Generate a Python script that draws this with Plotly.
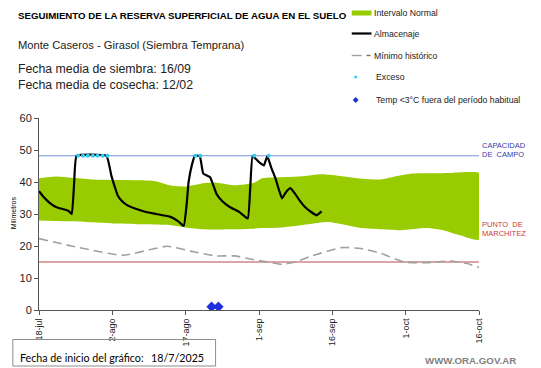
import plotly.graph_objects as go

# ---- data ----
tick_days = [0, 15, 30, 45, 60, 75, 90]
tick_labels = ["18-jul", "2-ago", "17-ago", "1-sep", "16-sep", "1-oct", "16-oct"]

upper_days = [0, 3.4, 6.7, 10.8, 16.8, 23.5, 27, 30, 33.6, 36.3, 40, 44, 45.7, 49.7, 54, 57.8, 62, 66, 69.9, 73, 76, 80, 84, 87.5, 90]
upper_vals = [41.2, 41.7, 41.3, 40.8, 40.6, 40.3, 38.9, 38.6, 39.6, 39.8, 39.0, 39.8, 41.2, 41.5, 41.8, 42.4, 41.8, 41.0, 40.8, 41.8, 42.6, 42.7, 42.8, 43.1, 42.8]

lower_days = [0, 6.7, 15.5, 20, 27, 30, 33.6, 40, 45.7, 49.7, 55, 59.1, 62, 65.9, 70, 74, 79.3, 83, 86, 90]
lower_vals = [28.0, 27.7, 27.0, 26.8, 26.5, 25.8, 25.2, 25.2, 25.6, 25.8, 26.8, 27.5, 26.8, 25.6, 25.2, 24.9, 25.6, 24.8, 23.4, 22.0]

min_days = [0, 6.7, 17.1, 26.2, 31, 36.3, 40, 44.3, 47.5, 49.7, 52.4, 55.8, 61.9, 65.9, 69.9, 74.6, 79.3, 84, 87.4, 90]
min_vals = [22.3, 20.0, 17.1, 19.9, 18.4, 16.9, 16.9, 15.6, 14.8, 14.3, 15.0, 16.9, 19.5, 19.2, 17.7, 15.0, 14.8, 15.3, 14.6, 13.3]

alm_days = [0, 1, 2, 3, 4, 5, 6, 6.7, 7.2, 7.7, 13.8, 14.8, 15.5, 16.1, 17, 18.1, 19.5, 21.5, 24, 26.9, 28.5, 29.6,
            30.2, 30.6, 31.3, 31.9, 32.9, 33.6, 35, 36.3, 37.5, 39, 41, 42.7, 43.2, 43.7, 45, 46, 46.7, 47.5, 48.4,
            49.7, 50.5, 51.4, 52.4, 53.4, 54.4, 55.6, 56.8, 57.8]
alm_vals = [37.1, 35.2, 33.7, 32.6, 31.9, 31.5, 31.0, 30.0, 40.0, 48.2, 48.2, 42.0, 38.5, 35.8, 34.0, 32.7, 31.8, 30.8, 30.0, 29.1, 27.7, 26.3,
            33.0, 40.0, 45.5, 48.3, 48.0, 42.6, 41.5, 36.3, 34.0, 32.2, 30.6, 28.6, 38.0, 48.1, 46.2, 45.2, 48.1, 44.5, 41.0,
            34.9, 36.8, 38.1, 36.3, 34.0, 32.2, 30.7, 29.6, 30.8]

exceso_days = [8, 9, 10, 11, 12, 13, 14, 32, 33, 44, 47]
exceso_vals = [48.2, 48.2, 48.2, 48.2, 48.2, 48.2, 48.2, 48.2, 48.2, 48.2, 48.2]

temp_days = [35.3, 36.7]
temp_vals = [1.0, 1.0]

capacidad = 48.2
marchitez = 15.0

# ---- figure geometry (page body has an 8px margin) ----
OFF = 8
W, H = 541 - OFF, 368 - OFF
L, T = 33 - OFF, 118 - OFF
pw, ph = 446, 192
R, B = W - L - pw, H - T - ph


def px(x):  # reference-pixel x -> paper
    return (x - OFF - L) / pw


def py(y):  # reference-pixel y -> paper
    return (T + ph - (y - OFF)) / ph


FONT = "Arial, 'Liberation Sans', sans-serif"

fig = go.Figure()

fig.add_trace(go.Scatter(
    x=upper_days + lower_days[::-1], y=upper_vals + lower_vals[::-1],
    fill="toself", fillcolor="#99cc00", line=dict(width=0, color="#99cc00", shape="spline", smoothing=0.6),
    mode="lines", hoverinfo="skip", showlegend=False))

fig.add_trace(go.Scatter(x=[0, 90], y=[capacidad, capacidad], mode="lines",
                         line=dict(color="#7394d6", width=1), showlegend=False))
fig.add_trace(go.Scatter(x=[0, 90], y=[marchitez, marchitez], mode="lines",
                         line=dict(color="#b94848", width=1), showlegend=False))

fig.add_trace(go.Scatter(x=min_days, y=min_vals, mode="lines",
                         line=dict(color="#a0a0a0", width=1.6, dash="9px,5px", shape="spline", smoothing=0.5),
                         showlegend=False))

fig.add_trace(go.Scatter(x=alm_days, y=alm_vals, mode="lines",
                         line=dict(color="black", width=2.2, shape="spline", smoothing=0.35), showlegend=False))

fig.add_trace(go.Scatter(x=exceso_days, y=exceso_vals, mode="markers",
                         marker=dict(color="#33ccee", size=4), showlegend=False))

fig.add_trace(go.Scatter(x=temp_days, y=temp_vals, mode="markers",
                         marker=dict(color="#1f2fe0", size=8, symbol="diamond"), showlegend=False))

shapes = []
annotations = []

# legend (custom)
shapes.append(dict(type="rect", xref="paper", yref="paper",
                   x0=px(350), x1=px(370), y0=py(15.5), y1=py(10.5),
                   fillcolor="#99cc00", line=dict(width=0)))
shapes.append(dict(type="line", xref="paper", yref="paper",
                   x0=px(350), x1=px(370), y0=py(33.5), y1=py(33.5),
                   line=dict(color="black", width=2.2)))
shapes.append(dict(type="line", xref="paper", yref="paper",
                   x0=px(350), x1=px(360), y0=py(55.5), y1=py(55.5),
                   line=dict(color="#a0a0a0", width=1.4)))
shapes.append(dict(type="line", xref="paper", yref="paper",
                   x0=px(365), x1=px(369), y0=py(55.5), y1=py(55.5),
                   line=dict(color="#707070", width=1.4)))
shapes.append(dict(type="circle", xref="paper", yref="paper",
                   x0=px(352.5), x1=px(355.5), y0=py(78.5), y1=py(75.5),
                   fillcolor="#33ccee", line=dict(width=0)))
cx, cy = px(354), py(100)
dx, dy = 3 / pw, 3 / ph
shapes.append(dict(type="path", xref="paper", yref="paper",
                   path=f"M {cx-dx} {cy} L {cx} {cy+dy} L {cx+dx} {cy} L {cx} {cy-dy} Z",
                   fillcolor="#1f2fe0", line=dict(width=0)))

legend_items = [("Intervalo Normal", 371, 13), ("Almacenaje", 371, 34),
                ("Mínimo histórico", 371, 56), ("Exceso", 373, 77),
                ("Temp <3°C fuera del período habitual", 373, 100)]
for txt, x, y in legend_items:
    annotations.append(dict(text=txt, xref="paper", yref="paper", x=px(x), y=py(y),
                            xanchor="left", yanchor="middle", showarrow=False,
                            font=dict(family=FONT, size=8.7, color="#222")))

# titles
annotations.append(dict(text="<b>SEGUIMIENTO DE LA RESERVA SUPERFICIAL DE AGUA EN EL SUELO</b>",
                        xref="paper", yref="paper", x=px(10), y=py(15), xanchor="left", yanchor="middle",
                        showarrow=False, font=dict(family=FONT, size=9.7, color="black")))
annotations.append(dict(text="Monte Caseros - Girasol (Siembra Temprana)",
                        xref="paper", yref="paper", x=px(10), y=py(45), xanchor="left", yanchor="middle",
                        showarrow=False, font=dict(family=FONT, size=11.2, color="#222")))
annotations.append(dict(text="Fecha media de siembra: 16/09<br>Fecha media de cosecha: 12/02",
                        xref="paper", yref="paper", x=px(10), y=py(77), xanchor="left", yanchor="middle",
                        align="left", showarrow=False, font=dict(family=FONT, size=12.3, color="#222")))

# right labels
for txt, y, col in [("CAPACIDAD", 145, "#3b3ba8"), ("DE  CAMPO", 154, "#3b3ba8"),
                    ("PUNTO  DE", 224, "#c83a3a"), ("MARCHITEZ", 233, "#c83a3a")]:
    annotations.append(dict(text=txt, xref="paper", yref="paper", x=px(480), y=py(y),
                            xanchor="left", yanchor="middle", showarrow=False,
                            font=dict(family=FONT, size=7.5, color=col)))

# y axis title
annotations.append(dict(text="Milímetros", xref="paper", yref="paper", x=px(7), y=py(213),
                        xanchor="center", yanchor="middle", textangle=-90, showarrow=False,
                        font=dict(family=FONT, size=7, color="black")))

# bottom box
shapes.append(dict(type="rect", xref="paper", yref="paper",
                   x0=px(6.5), x1=px(212), y0=py(366), y1=py(339.5),
                   line=dict(color="#8c8c8c", width=1), fillcolor="rgba(0,0,0,0)"))
BOXFONT = "Lato, 'Open Sans', sans-serif"
annotations.append(dict(text="Fecha de inicio del gráfico:", xref="paper", yref="paper",
                        x=px(11.5), y=py(357.5), xanchor="left", yanchor="middle", showarrow=False,
                        font=dict(family=BOXFONT, size=10.7, color="black")))
annotations.append(dict(text="18/7/2025", xref="paper", yref="paper",
                        x=px(144), y=py(357.5), xanchor="left", yanchor="middle", showarrow=False,
                        font=dict(family=BOXFONT, size=10.7, color="black")))
annotations.append(dict(text="<b>WWW.ORA.GOV.AR</b>", xref="paper", yref="paper",
                        x=px(519), y=py(360), xanchor="right", yanchor="middle", showarrow=False,
                        font=dict(family=FONT, size=9.7, color="#7f7f7f")))

fig.update_layout(
    width=W, height=H, margin=dict(l=L, r=R, t=T, b=B, pad=0),
    paper_bgcolor="white", plot_bgcolor="white",
    showlegend=False, shapes=shapes, annotations=annotations,
    xaxis=dict(range=[0, 90], tickmode="array", tickvals=tick_days, ticktext=tick_labels,
               tickangle=-90, showgrid=False, zeroline=False, showline=True, linecolor="#555",
               linewidth=1, ticks="outside", ticklen=4, tickcolor="#555",
               tickfont=dict(family=FONT, size=9, color="#222")),
    yaxis=dict(range=[0, 60], tickmode="array", tickvals=[0, 10, 20, 30, 40, 50, 60],
               showgrid=False, zeroline=False, showline=True, linecolor="#555", linewidth=1,
               ticks="outside", ticklen=4, tickcolor="#555",
               tickfont=dict(family=FONT, size=11, color="#222")),
)

fig.write_html("out.html")
